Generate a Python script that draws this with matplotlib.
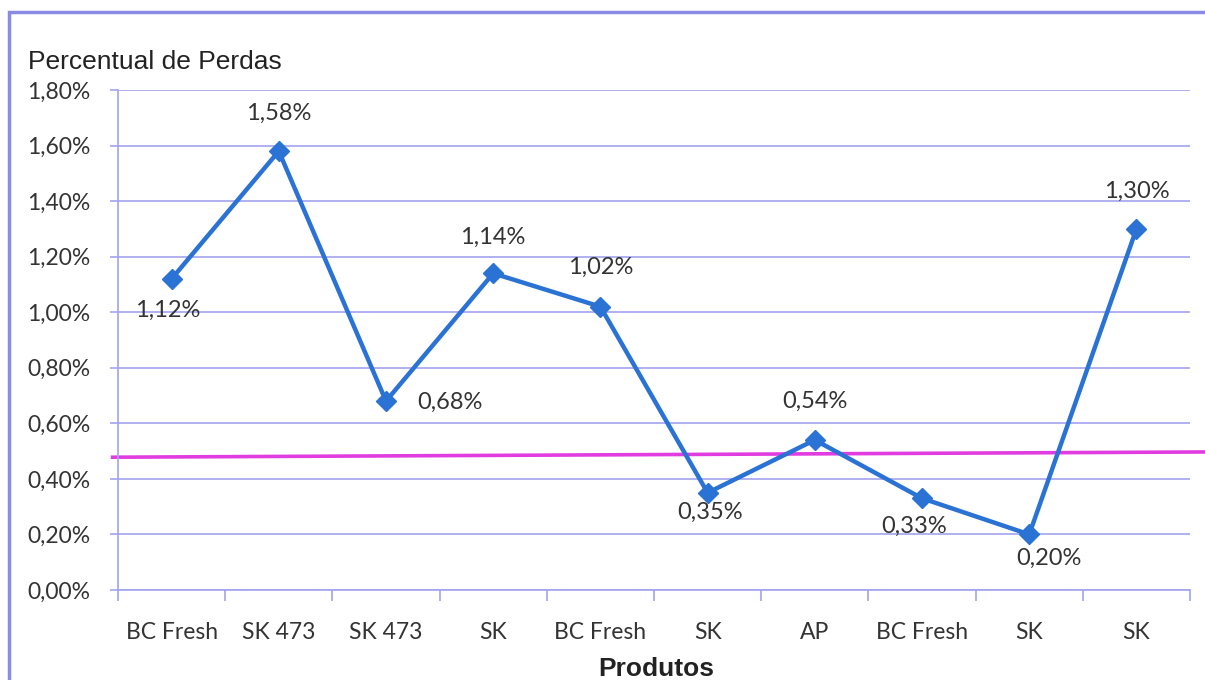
import matplotlib.pyplot as plt
import matplotlib.patches as patches
import numpy as np

produtos = ['BC Fresh', 'SK 473', 'SK 473', 'SK', 'BC Fresh', 'SK', 'AP', 'BC Fresh', 'SK', 'SK']
perdas = [1.12, 1.58, 0.68, 1.14, 1.02, 0.35, 0.54, 0.33, 0.20, 1.30]
# reference line drawn across the chart (slightly tilted in the original sheet)
linha_ref = [0.478, 0.497]

# where each value label sits relative to its point (dx, dy in points)
label_pos = [(-3, -23), (0, 27), (46, -1), (0, 26), (0, 28), (2, -14), (0, 28), (-6, -20), (14, -17), (0, 27)]

grid_col = '#a3a3ee'
txt_col = '#333333'
line_col = '#2a72d4'

fig = plt.figure(figsize=(12.05, 6.8), dpi=100)
ax = fig.add_axes([0.0979, 0.1324, 0.8897, 0.7352])

x = np.arange(len(perdas)) + 0.5
ax.plot(x, perdas, color=line_col, lw=3.2, marker='D', ms=10.5, zorder=3)

ax.plot([-0.05, 10.2], linha_ref, color='#e03ce0', lw=2.6, clip_on=False, zorder=2)

for xi, v, (dx, dy) in zip(x, perdas, label_pos):
    ax.annotate(('%.2f%%' % v).replace('.', ','), (xi, v), xytext=(dx, dy),
                textcoords='offset points', ha='center', va='center',
                fontsize=17, family='Lato', color=txt_col, zorder=4)

ax.set_xlim(0, 10)
ax.set_ylim(0, 1.8)
ax.set_yticks(np.arange(0, 1.81, 0.2))
ax.set_yticklabels([('%.2f%%' % t).replace('.', ',') for t in np.arange(0, 1.81, 0.2)],
                   fontsize=16.5, family='Lato', color=txt_col)
ax.yaxis.grid(True, color=grid_col, lw=1.2)
ax.set_axisbelow(True)

ax.set_xticks(np.arange(0, 11))
ax.set_xticklabels([])
ax.set_xticks(x, minor=True)
ax.set_xticklabels(produtos, minor=True, fontsize=16.5, family='Lato', color=txt_col)
ax.tick_params(axis='x', which='major', length=8, color=grid_col, width=1.2)
ax.tick_params(axis='x', which='minor', length=0, pad=23)
ax.tick_params(axis='y', length=6, color=grid_col, width=1.2, pad=14)

for s in ['top', 'right']:
    ax.spines[s].set_visible(False)
for s in ['left', 'bottom']:
    ax.spines[s].set_color(grid_col)
    ax.spines[s].set_linewidth(1.2)

fig.text(0.0232, 0.909, 'Percentual de Perdas', fontsize=19, family='Liberation Sans',
         color='#222222', va='center', ha='left')
fig.text(0.545, 0.016, 'Produtos', fontsize=19, family='Liberation Sans', weight='bold',
         color='#222222', va='center', ha='center')

# outer chart frame
fig.patches.append(patches.Rectangle((0.0075, -0.05), 1.1, 1.032, transform=fig.transFigure,
                                     fill=False, edgecolor='#8a8ae6', lw=2.5))

fig.savefig('out.png', dpi=100)
